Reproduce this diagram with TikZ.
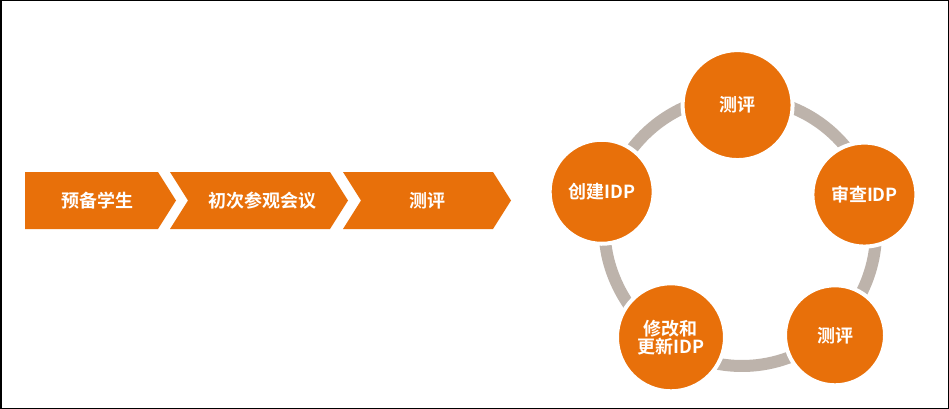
\documentclass[tikz,border=0pt]{standalone}
\usepackage{fontspec}
\setmainfont{Noto Sans CJK SC}[BoldFont={Noto Sans CJK SC Bold}]
\usetikzlibrary{arrows.meta}
\definecolor{og}{HTML}{E8700A}
\definecolor{rg}{HTML}{BDB3AB}
\begin{document}
\begin{tikzpicture}[x=1pt,y=-1pt,
  lbl/.style={text=white,font=\bfseries\fontsize{18}{21}\selectfont,align=center},
  circ/.style={circle,fill=og,draw=white,line width=4pt,minimum size=#1pt,inner sep=0pt,text=white,font=\bfseries\fontsize{18}{21}\selectfont,align=center},
  ring/.style={draw=rg,line width=12pt}]
\draw[line width=1.5pt,fill=white] (0.75,0.75) rectangle (948.25,408.25);
\useasboundingbox (0,0) rectangle (949,409);
% chevrons
\fill[og] (25,172) -- (158,172) -- (176,200.5) -- (158,229) -- (25,229) -- cycle;
\fill[og] (170,172) -- (330,172) -- (348,200.5) -- (330,229) -- (170,229) -- (188,200.5) -- cycle;
\fill[og] (343,172) -- (493,172) -- (511,200.5) -- (493,229) -- (343,229) -- (361,200.5) -- cycle;
\node[lbl] (c1) at (97,200.5) {预备学生};
\node[lbl] (c2) at (262,200.5) {初次参观会议};
\node[lbl] (c3) at (427,200.5) {测评};
% ring
\coordinate (C) at (742,232);
\draw[ring] ([shift={(-92:134)}]C) arc[start angle=-92,end angle=-17,radius=134];
\draw[ring] ([shift={(-17:134)}]C) arc[start angle=-17,end angle=48,radius=134];
\draw[ring] ([shift={(48:134)}]C) arc[start angle=48,end angle=124,radius=134];
\draw[ring] ([shift={(-164:138)}]C) arc[start angle=-164,end angle=-92,radius=136];
\draw[ring,-{Triangle[width=22pt,length=13pt]}] ([shift={(124:134)}]C) arc[start angle=124,end angle=192,radius=138];
% circles
\node[circ=110] (t) at ([shift={(-92:127)}]C) {测评};
\node[circ=104] (r) at ([shift={(-17:128)}]C) {审查IDP};
\node[circ=100] (br) at ([shift={(48:139)}]C) {测评};
\node[circ=108] (bl) at ([shift={(124:127)}]C) {修改和\\[-3pt]更新IDP};
\node[circ=104] (l) at ([shift={(-164:146)}]C) {创建IDP};
\end{tikzpicture}
\end{document}
